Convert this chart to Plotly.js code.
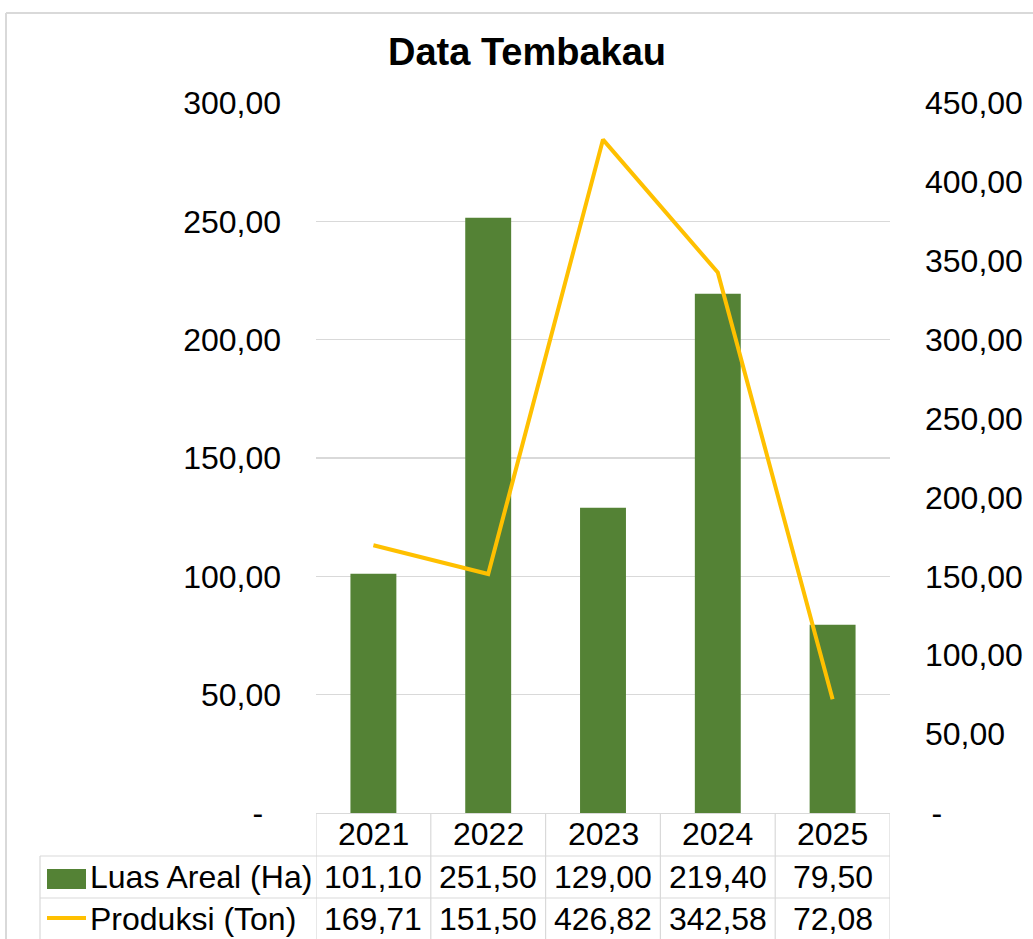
<!DOCTYPE html>
<html>
<head>
<meta charset="utf-8">
<script src="https://cdn.plot.ly/plotly-3.0.1.min.js"></script>
<style>html,body{margin:0;padding:0;background:#fff;}#chart{width:1033px;height:939px;}</style>
</head>
<body>
<div id="chart"></div>
<script>
const years = ['2021', '2022', '2023', '2024', '2025'];
const luasAreal = [101.10, 251.50, 129.00, 219.40, 79.50];
const produksi = [169.71, 151.50, 426.82, 342.58, 72.08];
const seriesNames = ['Luas Areal (Ha)', 'Produksi (Ton)'];
const leftTicks = [0, 50, 100, 150, 200, 250, 300];
const rightTicks = [0, 50, 100, 150, 200, 250, 300, 350, 400, 450];

const FONT = 'Liberation Sans, Arial, sans-serif';
const GREEN = '#548235';
const GOLD = '#FFC000';
const GRID = '#D9D9D9';
const TXT = 32;

function fmt(v) { return v.toFixed(2).replace('.', ','); }
function tickFmt(v, side) {
  if (v === 0) return side === 'left' ? '-\u00a0\u00a0' : '\u2009-';
  return fmt(v);
}

const xIdx = years.map((_, i) => i);

const traces = [
  {
    type: 'bar', x: xIdx, y: luasAreal, name: seriesNames[0],
    marker: {color: GREEN}, width: 0.4, yaxis: 'y', hoverinfo: 'skip'
  },
  {
    type: 'scatter', mode: 'lines', x: xIdx, y: produksi, name: seriesNames[1],
    line: {color: GOLD, width: 4}, yaxis: 'y2', hoverinfo: 'skip'
  }
];

// Plot area in pixels
const L = 316, R = 890, T = 103, B = 813;
const W = 1033, H = 939;

const headerCenter = -21;
const row1Center = -64;
const row2Center = -106;

const annotations = [];
years.forEach((yr, i) => {
  annotations.push({xref: 'x', yref: 'paper', x: i, y: 0, yshift: headerCenter, text: yr,
    showarrow: false, xanchor: 'center', yanchor: 'middle', font: {family: FONT, size: TXT, color: '#000'}});
  annotations.push({xref: 'x', yref: 'paper', x: i, y: 0, yshift: row1Center, text: fmt(luasAreal[i]),
    showarrow: false, xanchor: 'center', yanchor: 'middle', font: {family: FONT, size: TXT, color: '#000'}});
  annotations.push({xref: 'x', yref: 'paper', x: i, y: 0, yshift: row2Center, text: fmt(produksi[i]),
    showarrow: false, xanchor: 'center', yanchor: 'middle', font: {family: FONT, size: TXT, color: '#000'}});
});
annotations.push({xref: 'paper', yref: 'paper', x: 0, xshift: -228, y: 0, yshift: row1Center, text: seriesNames[0],
  showarrow: false, xanchor: 'left', yanchor: 'middle', font: {family: FONT, size: TXT, color: '#000'}});
annotations.push({xref: 'paper', yref: 'paper', x: 0, xshift: -228, y: 0, yshift: row2Center, text: seriesNames[1],
  showarrow: false, xanchor: 'left', yanchor: 'middle', font: {family: FONT, size: TXT, color: '#000'}});

const shapes = [];
function pxLine(x0, y0, x1, y1, color, width) {
  shapes.push({type: 'line', xref: 'paper', yref: 'paper', xsizemode: 'pixel', ysizemode: 'pixel',
    xanchor: 0, yanchor: 0, x0: x0, x1: x1, y0: y0, y1: y1, line: {color: color, width: width}, layer: 'above'});
}
// table horizontal lines (pixel offsets relative to plot bottom-left)
pxLine(40 - L, -43, R - L, -43, GRID, 1.2);
pxLine(40 - L, -85, R - L, -85, GRID, 1.2);
pxLine(40 - L, -43, 40 - L, -(H - B), GRID, 1.2);
// vertical column separators at category boundaries
for (let i = 0; i <= years.length; i++) {
  shapes.push({type: 'line', xref: 'x', yref: 'paper', ysizemode: 'pixel', yanchor: 0,
    x0: i - 0.5, x1: i - 0.5, y0: 0, y1: -(H - B), line: {color: GRID, width: 1.2}});
}
// legend keys
shapes.push({type: 'rect', xref: 'paper', yref: 'paper', xsizemode: 'pixel', ysizemode: 'pixel',
  xanchor: 0, yanchor: 0, x0: 47 - L, x1: 86 - L, y0: -(889 - B), y1: -(869 - B),
  fillcolor: GREEN, line: {width: 0}});
pxLine(47 - L, -(918 - B), 86 - L, -(918 - B), GOLD, 4);
// chart outer border (top and left)
pxLine(6 - L, B - 13, W - L, B - 13, '#D9D9D9', 2);
pxLine(6 - L, B - 13, 6 - L, -(H - B), '#D9D9D9', 2);

const layout = {
  width: W, height: H,
  margin: {l: L, r: W - R, t: T, b: H - B, pad: 0},
  paper_bgcolor: '#fff', plot_bgcolor: '#fff',
  showlegend: false,
  title: {text: '<b>Data Tembakau</b>', x: 527 / W, xref: 'container', xanchor: 'center',
    y: 1 - 52 / H, yref: 'container', yanchor: 'middle',
    font: {family: FONT, size: 38, color: '#000'}},
  font: {family: FONT, size: TXT, color: '#000'},
  xaxis: {range: [-0.5, years.length - 0.5], showticklabels: false, showgrid: false, zeroline: false,
    showline: true, linecolor: GRID, linewidth: 1.2, fixedrange: true},
  yaxis: {range: [0, 300], tickvals: leftTicks, ticktext: leftTicks.map(v => tickFmt(v, 'left')),
    showgrid: true, gridcolor: GRID, gridwidth: 1.2, zeroline: false, showline: false,
    ticks: '', ticklabelstandoff: 34, tickfont: {family: FONT, size: TXT, color: '#000'}},
  yaxis2: {range: [0, 450], tickvals: rightTicks, ticktext: rightTicks.map(v => tickFmt(v, 'right')),
    overlaying: 'y', side: 'right', showgrid: false, zeroline: false, showline: false,
    ticks: '', ticklabelstandoff: 34, tickfont: {family: FONT, size: TXT, color: '#000'}},
  annotations: annotations,
  shapes: shapes
};

Plotly.newPlot('chart', traces, layout, {staticPlot: true, displayModeBar: false});
</script>
</body>
</html>
